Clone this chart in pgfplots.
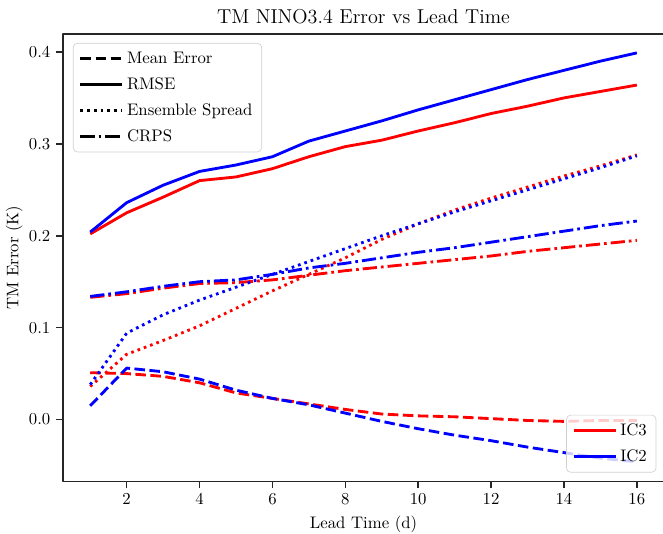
\documentclass[border=0pt]{standalone}
\usepackage{pgfplots}
\pgfplotsset{compat=1.18}
\usepackage{pgfplotstable}
\pgfplotstableread{
x  rmse   spread  crps   me
1  0.202  0.036   0.133  0.051
2  0.225  0.071   0.137  0.050
3  0.242  0.086   0.143  0.047
4  0.260  0.102   0.148  0.040
5  0.264  0.121   0.149  0.029
6  0.273  0.140   0.152  0.023
7  0.286  0.158   0.157  0.017
8  0.297  0.176   0.162  0.011
9  0.304  0.196   0.166  0.006
10 0.314  0.213   0.170  0.004
11 0.323  0.228   0.174  0.003
12 0.333  0.241   0.178  0.001
13 0.341  0.253   0.183  -0.001
14 0.350  0.265   0.187  -0.002
15 0.357  0.276   0.191  -0.001
16 0.364  0.288   0.195  -0.001
}\icthree
\pgfplotstableread{
x  rmse   spread  crps   me
1  0.204  0.038   0.134  0.015
2  0.236  0.094   0.139  0.056
3  0.255  0.114   0.145  0.052
4  0.270  0.130   0.150  0.044
5  0.277  0.144   0.152  0.032
6  0.286  0.158   0.158  0.023
7  0.303  0.172   0.165  0.016
8  0.314  0.186   0.170  0.007
9  0.325  0.200   0.176  -0.002
10 0.337  0.213   0.182  -0.010
11 0.348  0.226   0.187  -0.017
12 0.359  0.238   0.193  -0.023
13 0.370  0.250   0.199  -0.030
14 0.380  0.262   0.205  -0.036
15 0.390  0.274   0.211  -0.042
16 0.399  0.287   0.216  -0.046
}\ictwo
\begin{document}
\begin{tikzpicture}
\tikzset{
 me/.style={dash pattern=on 6.3pt off 2.7pt},
 sp/.style={dash pattern=on 1.6pt off 2.4pt},
 cr/.style={dash pattern=on 8.5pt off 2.4pt on 1.6pt off 2.4pt},
}
\pgfplotsset{
 mylegend/.style={
  fill=white, fill opacity=0.8, text opacity=1, draw=black!18,
  rounded corners=2.5pt, font=\normalsize, row sep=3pt,
  inner xsep=3.5pt, inner ysep=3pt,
 },
}
\begin{axis}[name=main, scale only axis, width=359.4pt, height=267.5pt,
 xmin=0.25, xmax=16.75, ymin=-0.0674, ymax=0.4196,
 xtick={2,4,...,16}, ytick={0,0.1,0.2,0.3,0.4},
 yticklabel style={/pgf/number format/.cd, fixed, fixed zerofill, precision=1},
 tick pos=left, tick align=outside, major tick length=4pt,
 axis line style={black!85, line width=0.9pt},
 every tick/.style={black!85, line width=0.9pt},
 title={TM NINO3.4 Error vs Lead Time},
 title style={at={(0.5,1)}, anchor=base, font=\large},
 xlabel={Lead Time (d)}, ylabel={TM Error (K)},
 xlabel style={at={(axis description cs:0.5,-0.096)}, anchor=center},
 ylabel style={at={(axis description cs:-0.081,0.5)}, anchor=center},
 legend style={mylegend, at={(0.987,0.02)}, anchor=south east},
 legend cell align=left,
 legend image code/.code={\draw[#1] (0pt,0pt) -- (21pt,0pt); \path (0pt,0pt) -- (25pt,0pt);},
 line join=round,
]
\addplot[red, line width=1.7pt, me, forget plot] table[x=x,y=me]{\icthree};
\addplot[red, line width=1.7pt, forget plot] table[x=x,y=rmse]{\icthree};
\addplot[red, line width=1.7pt, sp, forget plot] table[x=x,y=spread]{\icthree};
\addplot[red, line width=1.7pt, cr, forget plot] table[x=x,y=crps]{\icthree};
\addplot[blue, line width=1.7pt, me, forget plot] table[x=x,y=me]{\ictwo};
\addplot[blue, line width=1.7pt, forget plot] table[x=x,y=rmse]{\ictwo};
\addplot[blue, line width=1.7pt, sp, forget plot] table[x=x,y=spread]{\ictwo};
\addplot[blue, line width=1.7pt, cr, forget plot] table[x=x,y=crps]{\ictwo};
\addlegendimage{red, line width=1.7pt}
\addlegendentry{IC3}
\addlegendimage{blue, line width=1.7pt}
\addlegendentry{IC2}
\end{axis}
\begin{axis}[at={(main.south west)}, anchor=south west, scale only axis,
 width=359.4pt, height=267.5pt, hide axis, xmin=0, xmax=1, ymin=0, ymax=1,
 legend style={mylegend, at={(0.0166,0.98)}, anchor=north west},
 legend cell align=left,
 legend image code/.code={\draw[#1] (0pt,0pt) -- (21pt,0pt); \path (0pt,0pt) -- (25pt,0pt);},
]
\addlegendimage{black, line width=1.7pt, me}
\addlegendentry{Mean Error}
\addlegendimage{black, line width=1.7pt}
\addlegendentry{RMSE}
\addlegendimage{black, line width=1.7pt, sp}
\addlegendentry{Ensemble Spread}
\addlegendimage{black, line width=1.7pt, cr}
\addlegendentry{CRPS}
\end{axis}
\pgfresetboundingbox
\path[use as bounding box] ([xshift=-37.6pt,yshift=-31pt]main.south west) rectangle ([xshift=-0.7pt,yshift=20.3pt]main.north east);
\end{tikzpicture}
\end{document}
